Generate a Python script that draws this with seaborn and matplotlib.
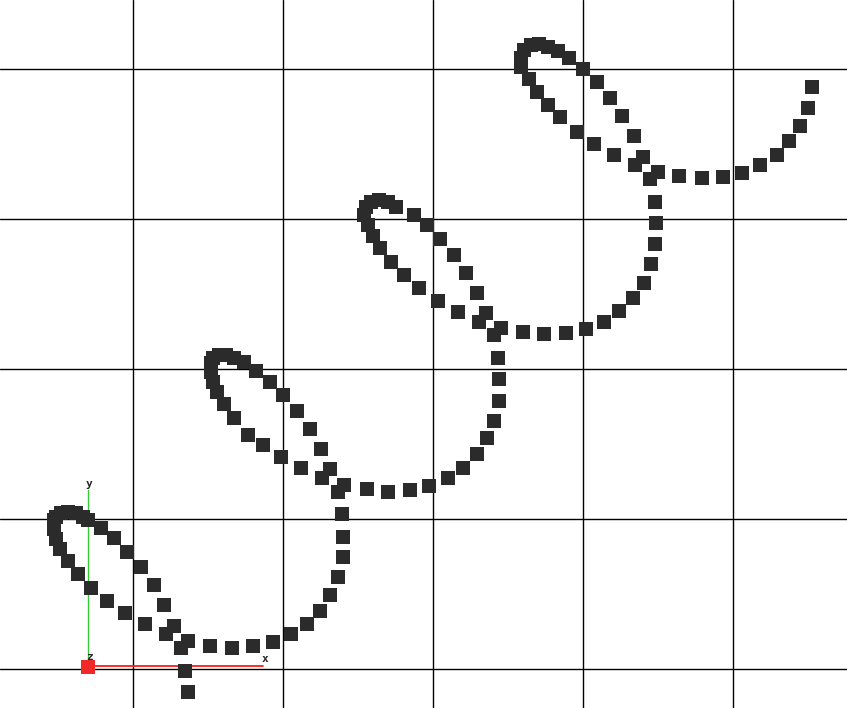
import numpy as np
import pandas as pd
import matplotlib
matplotlib.use("Agg")
import matplotlib.pyplot as plt
import seaborn as sns

# Sampled points of the coil (scene units: grid spacing = 150)
loop1_x = [55, 52, 48, 33, 12, -8, -26, -42, -55, -65, -73, -77, -79,
           -79, -77, -72, -65, -57, -50, -45,
           -32, -19, -6, 8, 21, 31, 41, 55,
           77, 99, 120, 140, 158, 174, 187, 197, 205, 210, 210, 209]
loop1_y = [-23, -2, 21, 35, 45, 56, 68, 81, 95, 108, 120, 130, 140,
           149, 152, 156, 157, 156, 152, 149,
           141, 131, 117, 102, 84, 64, 43, 28,
           23, 21, 23, 27, 35, 45, 58, 74, 92, 112, 132, 155]

loop2_x = [205, 189, 168, 148, 130, 115, 101, 91, 84, 80, 78,
           78, 80, 86, 93, 101, 111,
           123, 137, 150, 164, 177, 188, 197, 211,
           234, 255, 277, 296, 315, 330, 344, 354, 361, 366, 366, 365]
loop2_y = [177, 191, 201, 212, 224, 234, 251, 265, 277, 287, 297,
           306, 311, 314, 314, 311, 307,
           298, 287, 274, 258, 240, 220, 200, 184,
           180, 177, 179, 183, 191, 201, 215, 231, 248, 268, 290, 311]

loop3_x = [361, 346, 325, 305, 286, 271, 258, 247, 240, 235,
           231, 233, 238, 246, 255, 263,
           281, 294, 307, 321, 333, 344, 353, 368,
           390, 411, 433, 453, 471, 486, 500, 511, 518, 522, 523, 522]
loop3_y = [334, 347, 357, 368, 381, 394, 407, 421, 433, 444,
           454, 462, 467, 469, 467, 462,
           454, 444, 430, 414, 396, 376, 356, 341,
           337, 335, 336, 340, 347, 358, 371, 386, 405, 425, 446, 467]

loop4_x = [517, 502, 481, 461, 444, 427, 415, 404, 396, 388,
           388, 391, 398, 406, 415, 425,
           436, 450, 464, 477, 489, 501, 510, 525,
           546, 569, 590, 609, 627, 644, 656, 667, 675, 679]
loop4_y = [490, 504, 514, 525, 537, 552, 564, 577, 590, 602,
           611, 619, 624, 625, 622, 618,
           611, 600, 587, 571, 553, 533, 512, 497,
           493, 491, 492, 496, 504, 514, 528, 543, 561, 582]

grid_ticks = [0, 150, 300, 450, 600]

# axis gizmo (origin and axis ends)
gizmo_origin = (-44.5, 2.5)
gizmo_x_end = 130
gizmo_y_end = 179

df = pd.DataFrame({
    "x": loop1_x + loop2_x + loop3_x + loop4_x,
    "y": loop1_y + loop2_y + loop3_y + loop4_y,
})

sns.set_style("white")
fig = plt.figure(figsize=(8.47, 7.08), dpi=100)
ax = fig.add_axes([0, 0, 1, 1])
ax.set_xlim(-132.5, 714.5)
ax.set_ylim(-39, 669)

for t in grid_ticks:
    ax.axvline(t, color="black", lw=1.0, zorder=1)
    ax.axhline(t, color="black", lw=1.0, zorder=1)

ox, oy = gizmo_origin
ax.plot([ox, gizmo_x_end], [oy + 0.5, oy + 0.5], color="#ff1a1a", lw=1.3, zorder=2)
ax.plot([ox - 0.2, ox - 0.2], [oy, gizmo_y_end], color="#33cc33", lw=1.0, zorder=2)

sns.scatterplot(data=df, x="x", y="y", marker="s", s=98, color="#2b2b2b",
                linewidth=0, ax=ax, zorder=3, legend=False)

ax.scatter([ox], [oy], marker="s", s=95, color="#f02828", linewidth=0, zorder=4)

ax.text(ox + 1.5, oy + 5, "z", fontsize=8, family="DejaVu Sans Mono",
        fontweight="bold", ha="center", va="bottom", zorder=5)
ax.text(gizmo_x_end + 3, oy + 3, "x", fontsize=8, family="DejaVu Sans Mono",
        fontweight="bold", ha="center", va="bottom", zorder=5)
ax.text(ox + 1.5, gizmo_y_end + 1, "y", fontsize=8, family="DejaVu Sans Mono",
        fontweight="bold", ha="center", va="bottom", zorder=5)

ax.set_xticks([])
ax.set_yticks([])
ax.set_xlabel("")
ax.set_ylabel("")
for s in ax.spines.values():
    s.set_visible(False)

fig.savefig("out.png", dpi=100)
